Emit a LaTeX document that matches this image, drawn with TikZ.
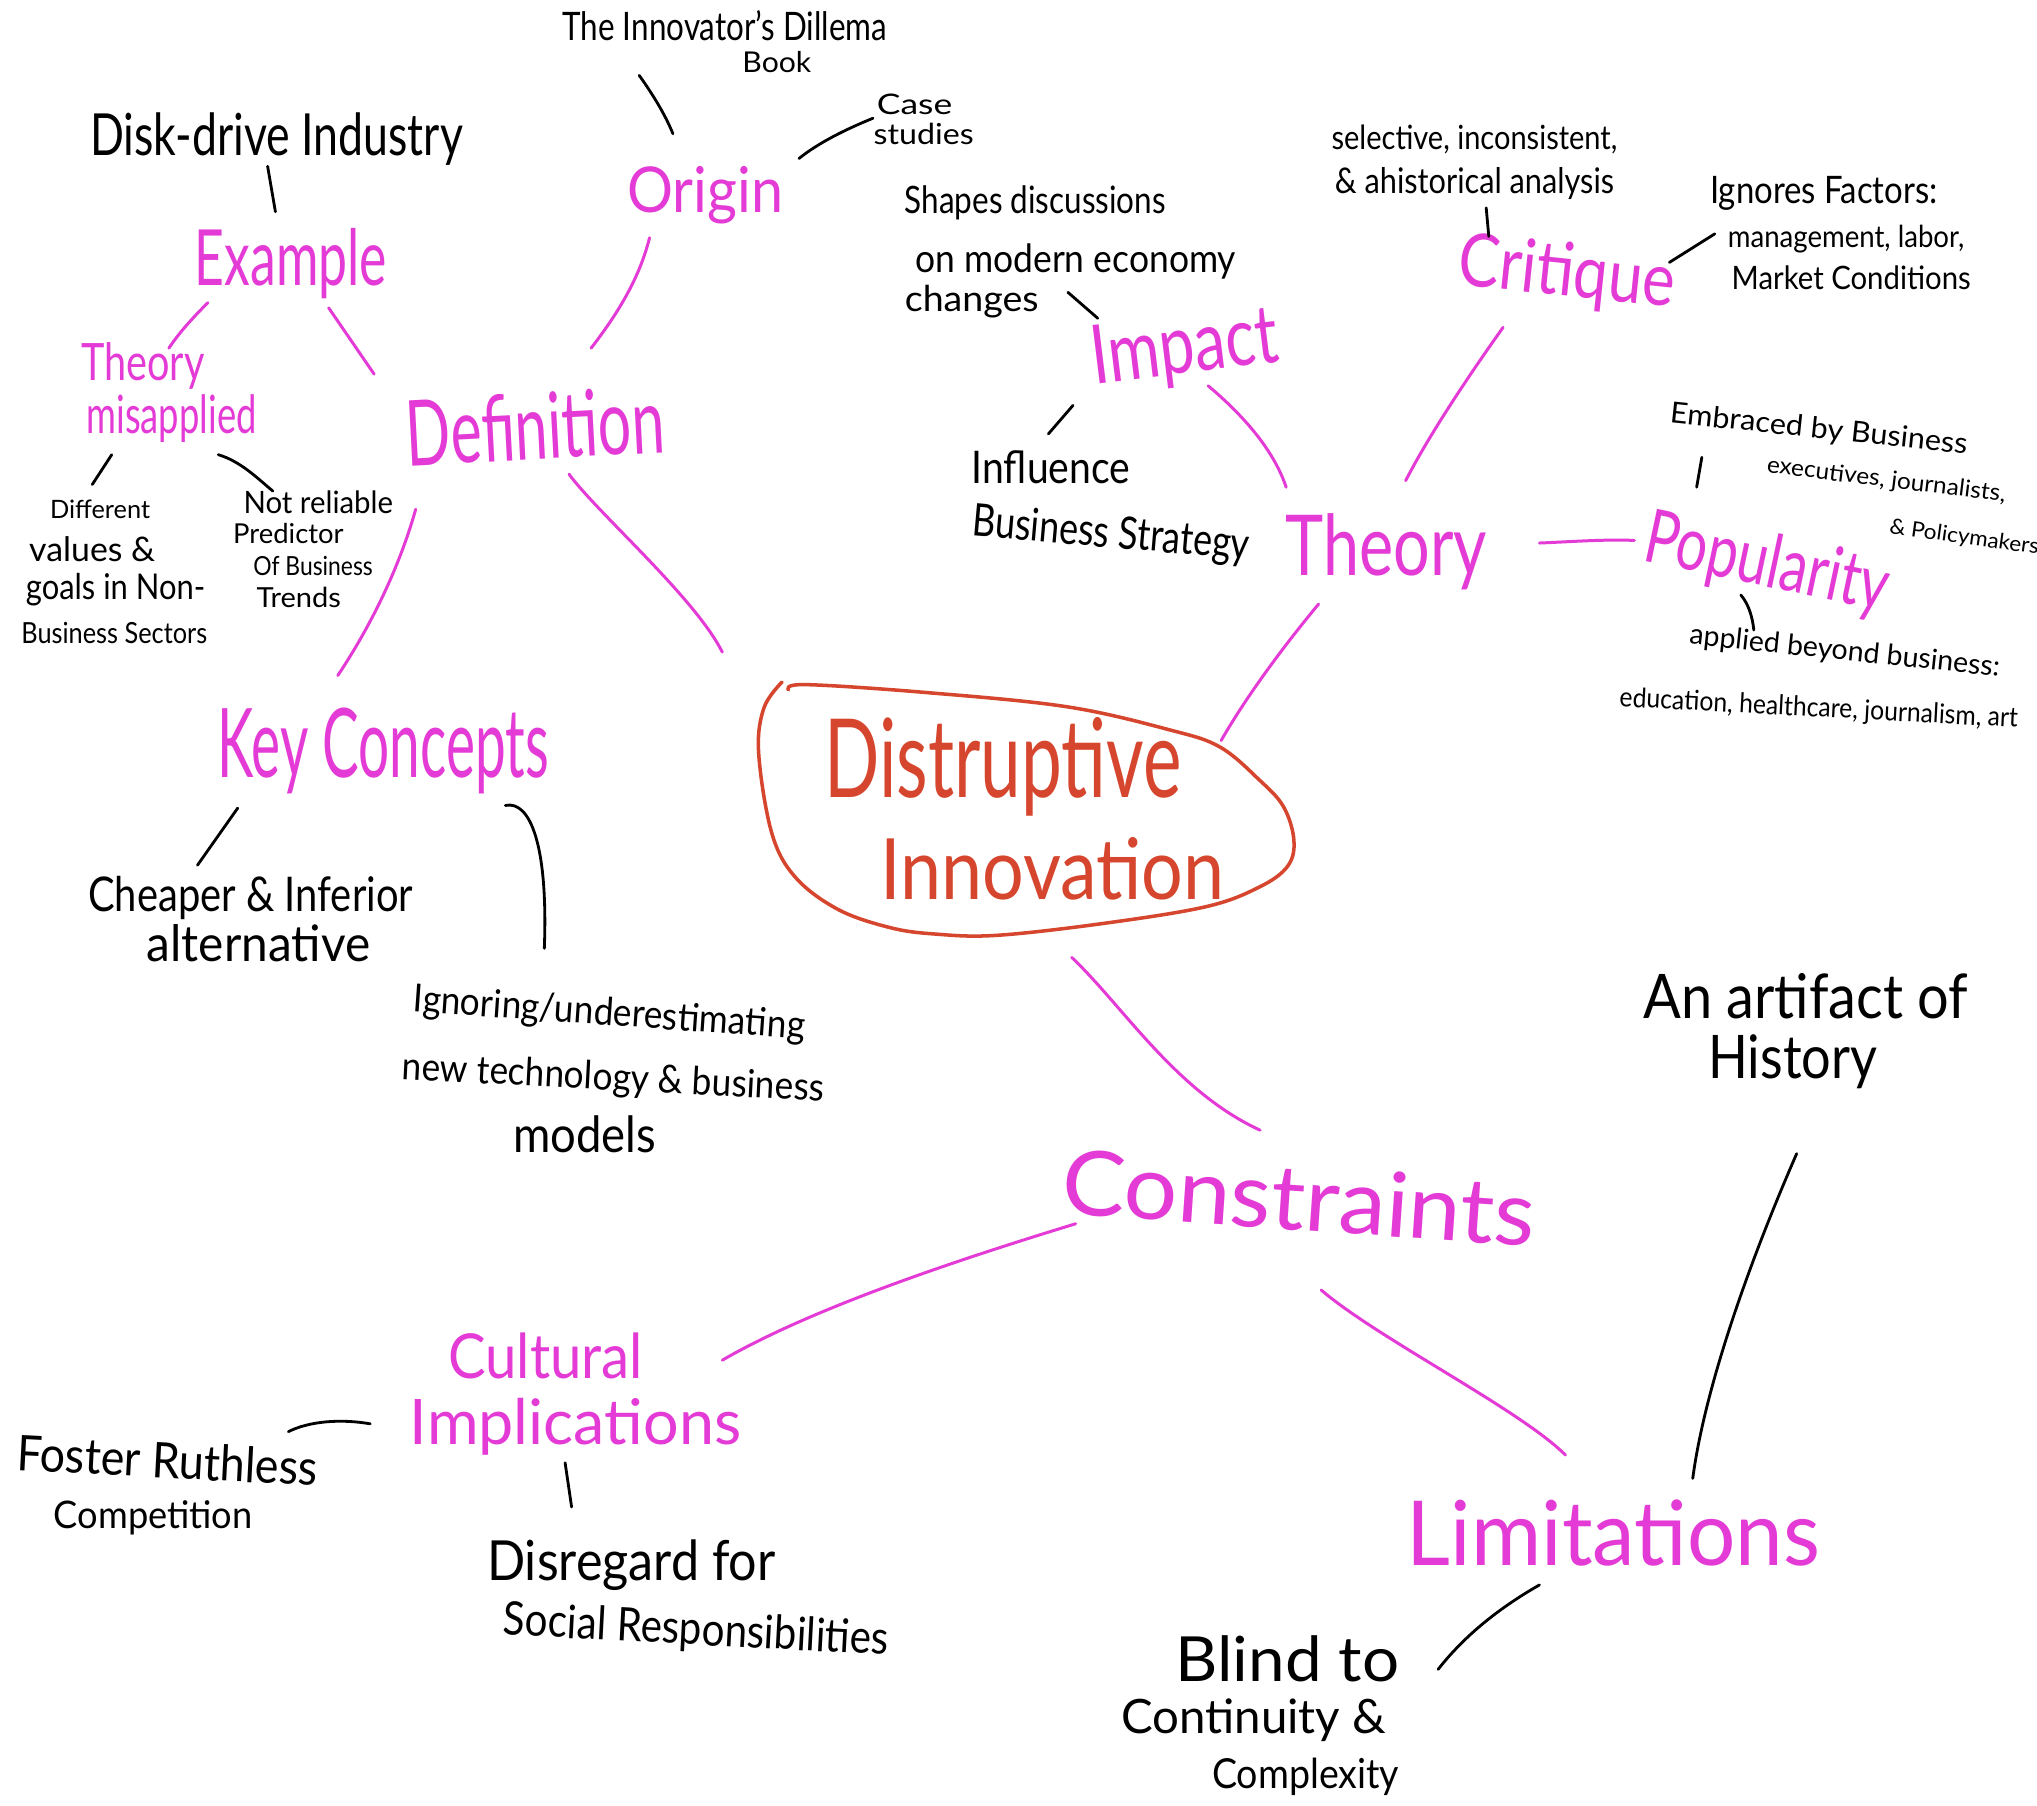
\documentclass[tikz,border=0pt]{standalone}
\usepackage{fontspec}
\setmainfont{Lato}
\usepackage{graphicx}
\newlength\uu
\setlength\uu{0.012991cm}
\newcommand\hw[3]{\scalebox{1}[#2]{\resizebox{#1\uu}{!}{#3}}}
\definecolor{mag}{RGB}{228,58,214}
\definecolor{rdi}{RGB}{214,70,46}
\begin{document}
\begin{tikzpicture}[x=0.012991cm,y=-0.012991cm,
  blk/.style={inner sep=0pt, text=black},
  mg/.style={inner sep=0pt, text=mag},
  rd/.style={inner sep=0pt, text=rdi},
  bl/.style={draw=black, line width=0.8pt, line cap=round},
  ml/.style={draw=mag, line width=0.85pt, line cap=round}]
\fill[white] (0,0) rectangle (1568,1390);
\useasboundingbox (0,0) rectangle (1568,1390);

% ---------- centre ----------
\coordinate (ctr) at (789,620);
\draw[rdi, line width=1pt, line cap=round] plot[smooth, tension=0.6] coordinates {
 (607,531) (620,527) (712,533) (821,544) (901,562) (939,575) (969,600) (988,621)
 (996,647) (991,667) (969,683) (928,698) (848,711) (767,720) (720,719) (685,714)
 (645,700) (612,675) (594,641) (584,580) (588,545) (602,525)};
\node[rd] (dis) at (772,590) {\hw{275}{1.5}{Distruptive}};
\node[rd] (inn) at (810,669) {\hw{265}{1.15}{Innovation}};

% ---------- magenta labels ----------
\node[mg] (origin) at (543,150) {\hw{120}{1.1}{Origin}};
\node[mg] (example) at (224,203) {\hw{148}{1.5}{Example}};
\node[mg] (thm1) at (110,282) {\hw{95}{1.3}{Theory}};
\node[mg] (thm2) at (132,322) {\hw{131}{1.45}{misapplied}};
\node[mg, rotate=3] (def) at (412,328) {\hw{199}{1.55}{Definition}};
\node[mg] (key) at (295,578) {\hw{255}{1.75}{Key Concepts}};
\node[mg, rotate=7] (impact) at (912,270) {\hw{145}{1.3}{Impact}};
\node[mg] (theory) at (1067,425) {\hw{155}{1.3}{Theory}};
\node[mg, rotate=-6] (critique) at (1206,212) {\hw{167}{1.2}{Critique}};
\node[mg, rotate=-12] (pop) at (1360,435) {\hw{190}{1.35}{Popularity}};
\node[mg, rotate=-4] (cons) at (1000,922) {\hw{365}{0.95}{Constraints}};
\node[mg] (cult1) at (420,1044) {\hw{150}{1.1}{Cultural}};
\node[mg] (cult2) at (443,1098) {\hw{255}{1.0}{Implications}};
\node[mg] (lim) at (1242,1180) {\hw{318}{1.05}{Limitations}};

% ---------- black notes ----------
\node[blk] (book1) at (558,20) {\hw{250}{1.25}{The Innovator's Dillema}};
\node[blk] (book2) at (598,48) {\hw{53}{0.95}{Book}};
\node[blk] (case1) at (704,80) {\hw{58}{0.8}{Case}};
\node[blk] (case2) at (711,103) {\hw{77}{0.9}{studies}};
\node[blk] (disk) at (213,107) {\hw{287}{1.3}{Disk-drive Industry}};
\node[blk] (diff1) at (77,392) {\hw{77}{1.0}{Different}};
\node[blk] (diff2) at (71,423) {\hw{97}{1.0}{values \&}};
\node[blk] (diff3) at (89,454) {\hw{138}{1.15}{goals in Non-}};
\node[blk] (diff4) at (88,487) {\hw{143}{1.15}{Business Sectors}};
\node[blk] (notr1) at (245,387) {\hw{115}{1.05}{Not reliable}};
\node[blk] (notr2) at (222,411) {\hw{85}{1.0}{Predictor}};
\node[blk] (notr3) at (241,436) {\hw{92}{1.15}{Of Business}};
\node[blk] (notr4) at (230,460) {\hw{65}{0.95}{Trends}};
\node[blk] (cheap1) at (193,691) {\hw{250}{1.2}{Cheaper \& Inferior}};
\node[blk] (cheap2) at (199,726) {\hw{172}{1.05}{alternative}};
\node[blk, rotate=-4] (ign1) at (469,781) {\hw{302}{1.1}{Ignoring/underestimating}};
\node[blk, rotate=-3] (ign2) at (472,831) {\hw{325}{1.1}{new technology \& business}};
\node[blk] (ign3) at (450,873) {\hw{110}{1.1}{models}};
\node[blk] (shp1) at (797,156) {\hw{201}{1.2}{Shapes discussions}};
\node[blk] (shp2) at (828,201) {\hw{247}{1.1}{on modern economy}};
\node[blk] (shp3) at (748,232) {\hw{103}{0.95}{changes}};
\node[blk] (infl1) at (809,360) {\hw{122}{1.15}{Influence}};
\node[blk, rotate=-5] (infl2) at (855,412) {\hw{214}{1.25}{Business Strategy}};
\node[blk] (sel1) at (1135,107) {\hw{220}{1.15}{selective, inconsistent,}};
\node[blk] (sel2) at (1135,141) {\hw{215}{1.15}{\& ahistorical analysis}};
\node[blk] (ignf1) at (1404,149) {\hw{175}{1.15}{Ignores Factors:}};
\node[blk] (ignf2) at (1421,184) {\hw{182}{1.1}{management, labor,}};
\node[blk] (ignf3) at (1425,214) {\hw{184}{1.1}{Market Conditions}};
\node[blk, rotate=-6] (emb1) at (1400,331) {\hw{230}{0.95}{Embraced by Business}};
\node[blk, rotate=-7] (emb2) at (1452,370) {\hw{185}{0.95}{executives, journalists,}};
\node[blk, rotate=-8] (emb3) at (1512,414) {\hw{116}{0.95}{\& Policymakers}};
\node[blk, rotate=-6] (app1) at (1420,502) {\hw{240}{1.0}{applied beyond business:}};
\node[blk, rotate=-3] (app2) at (1400,546) {\hw{307}{1.1}{education, healthcare, journalism, art}};
\node[blk] (art1) at (1390,767) {\hw{250}{1.1}{An artifact of}};
\node[blk] (art2) at (1380,817) {\hw{130}{1.15}{History}};
\node[blk, rotate=-3] (fost1) at (129,1124) {\hw{232}{1.1}{Foster Ruthless}};
\node[blk] (fost2) at (118,1168) {\hw{153}{1.05}{Competition}};
\node[blk] (dis1) at (486,1205) {\hw{222}{1.1}{Disregard for}};
\node[blk, rotate=-3] (dis2) at (536,1256) {\hw{297}{1.15}{Social Responsibilities}};
\node[blk] (bl1) at (991,1277) {\hw{172}{0.95}{Blind to}};
\node[blk] (bl2) at (965,1324) {\hw{204}{1.0}{Continuity \&}};
\node[blk] (bl3) at (1005,1368) {\hw{144}{1.1}{Complexity}};

% ---------- black connectors ----------
\draw[bl] ([shift={(-66,38)}]book1.center) .. controls (502,72) and (512,88) .. ([shift={(-25,-47)}]origin.center);
\draw[bl] ([shift={(72,-28)}]origin.center) .. controls (630,110) and (650,100) .. ([shift={(-32,11)}]case1.center);
\draw[bl] ([shift={(-7,21)}]disk.center) -- ([shift={(-12,-40)}]example.center);
\draw[bl] ([shift={(-46,28)}]thm2.center) -- ([shift={(-6,-19)}]diff1.center);
\draw[bl] ([shift={(36,28)}]thm2.center) .. controls (185,355) and (198,368) .. ([shift={(-35,-9)}]notr1.center);
\draw[bl] ([shift={(-112,44)}]key.center) -- ([shift={(-41,-25)}]cheap1.center);
\draw[bl] ([shift={(94,42)}]key.center) .. controls (408,616) and (422,650) .. ([shift={(-50,-51)}]ign1.center);
\draw[bl] ([shift={(-6,24)}]shp2.center) -- ([shift={(-67,-25)}]impact.center);
\draw[bl] ([shift={(-86,42)}]impact.center) -- ([shift={(-2,-26)}]infl1.center);
\draw[bl] ([shift={(9,19)}]sel2.center) -- ([shift={(-60,-30)}]critique.center);
\draw[bl] ([shift={(79,-10)}]critique.center) -- ([shift={(-101,-4)}]ignf2.center);
\draw[bl] ([shift={(-90,21)}]emb1.center) -- ([shift={(-54,-60)}]pop.center);
\draw[bl] ([shift={(-20,23)}]pop.center) .. controls (1346,465) and (1349,475) .. ([shift={(-70,-17)}]app1.center);
\draw[bl] ([shift={(61,-42)}]lim.center) .. controls (1312,1070) and (1345,975) .. ([shift={(3,71)}]art2.center);
\draw[bl] ([shift={(-57,40)}]lim.center) .. controls (1150,1240) and (1125,1262) .. ([shift={(116,8)}]bl1.center);
\draw[bl] ([shift={(-158,-2)}]cult2.center) .. controls (262,1092) and (238,1094) .. ([shift={(93,-22)}]fost1.center);
\draw[bl] ([shift={(-8,28)}]cult2.center) -- ([shift={(-46,-45)}]dis1.center);

% ---------- magenta connectors ----------
\draw[ml] ([shift={(-43,33)}]origin.center) .. controls (492,215) and (475,242) .. ([shift={(43,-60)}]def.center);
\draw[ml] ([shift={(29,34)}]example.center) -- ([shift={(-124,-40)}]def.center);
\draw[ml] ([shift={(-64,30)}]example.center) .. controls (148,245) and (138,256) .. ([shift={(20,-14)}]thm1.center);
\draw[ml] ([shift={(-92,64)}]def.center) .. controls (305,445) and (280,490) .. ([shift={(-35,-58)}]key.center);
\draw[ml] ([shift={(26,37)}]def.center) .. controls (460,395) and (535,460) .. ([shift={(-233,-118)}]ctr);
\draw[ml] ([shift={(18,27)}]impact.center) .. controls (955,318) and (980,345) .. ([shift={(-77,-50)}]theory.center);
\draw[ml] ([shift={(-49,40)}]critique.center) .. controls (1130,290) and (1100,335) .. ([shift={(15,-55)}]theory.center);
\draw[ml] ([shift={(118,-7)}]theory.center) .. controls (1210,417) and (1235,415) .. ([shift={(-102,-19)}]pop.center);
\draw[ml] ([shift={(-52,40)}]theory.center) .. controls (990,495) and (960,535) .. ([shift={(151,-50)}]ctr);
\draw[ml] ([shift={(36,117)}]ctr) .. controls (865,775) and (905,840) .. ([shift={(-30,-52)}]cons.center);
\draw[ml] ([shift={(-172,20)}]cons.center) .. controls (720,975) and (620,1010) .. ([shift={(136,3)}]cult1.center);
\draw[ml] ([shift={(17,71)}]cons.center) .. controls (1060,1030) and (1170,1085) .. ([shift={(-37,-60)}]lim.center);
\end{tikzpicture}
\end{document}
